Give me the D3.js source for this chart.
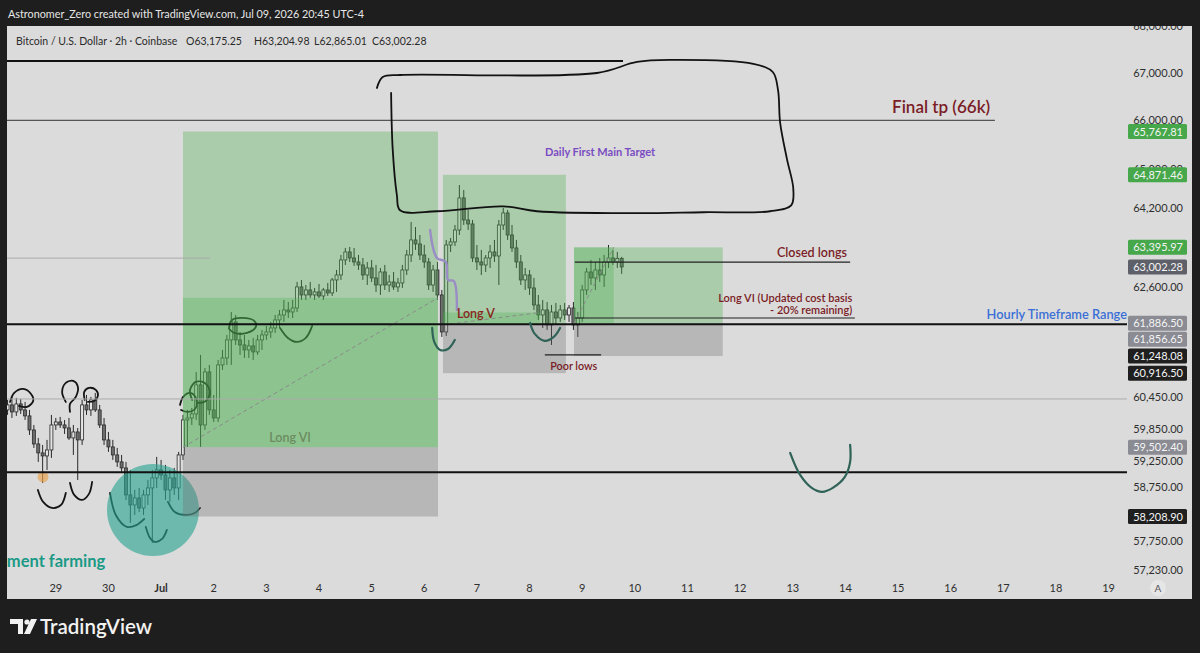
<!DOCTYPE html>
<html>
<head>
<meta charset="utf-8">
<script src="https://cdn.jsdelivr.net/npm/d3@7"></script>
<style>
  body { margin: 0; background: #1e1e1e; }
  svg { display: block; font-family: "Lato", "Open Sans", sans-serif; }
</style>
</head>
<body>
<svg id="chart" width="1200" height="653"></svg>
<script>
// ---- data ----
// days counted from Jun 29 2026 00:00
var timeTicks = d3.range(0, 21);
var timeLabels = ["29","30","Jul","2","3","4","5","6","7","8","9","10","11","12","13","14","15","16","17","18","19"];
var priceTicks = [68000, 67000, 66000, 65000, 64200, 62600, 60450, 59850, 59250, 58750, 57750, 57230];

// 2h candles starting Jun 28 02:00, [open, high, low, close]
var candleStartDay = -11 / 12;
var candles = [
  [60210,60401,60115,60306],[60306,60459,60057,60172],[60172,60440,60096,60325],[60325,60420,60134,60210],
  [60210,60363,60019,60096],[60096,60210,59734,59829],[59829,59924,59489,59564],[59564,59678,59226,59395],
  [59395,59545,58832,59338],[59338,59640,59075,59451],[59451,60115,59301,59924],[59924,60057,59829,59981],
  [59981,60077,59867,59924],[59924,60019,59753,59867],[59867,60057,59640,59678],[59678,59924,59357,59791],
  [59791,59867,58888,59640],[59640,60401,59545,60306],[60306,60497,60115,60210],[60210,60459,60096,60401],
  [60401,60535,60172,60210],[60210,60306,59867,59924],[59924,60057,59545,59640],[59640,59791,59414,59508],
  [59508,59640,59263,59357],[59357,59489,59132,59226],[59226,59357,59038,59113],[59113,59226,58516,58609],
  [58609,59075,58091,58423],[58423,58702,58238,58553],[58553,58739,58293,58367],[58367,58702,58238,58609],
  [58609,58888,58423,58739],[58739,59075,57723,58925],[58925,59320,58739,59075],[59075,59263,58888,58981],
  [58981,59169,58516,58702],[58702,59075,58479,58925],[58925,59113,58609,58739],[58739,59414,58516,59357],
  [59357,60115,59263,60019],[60019,60210,59508,60057],[60057,60249,59924,60134],[60134,60941,60019,60690],
  [60690,61270,59508,59924],[59924,61017,59829,60940],[60940,61076,60115,60210],[60210,60497,59981,60057],
  [60057,61172,59981,61076],[61076,61367,60979,61211],[61211,61659,61076,61562],[61562,62110,61076,61914],
  [61914,62051,61464,61562],[61562,61718,61270,61464],[61464,61659,61211,61367],[61367,61562,61211,61445],
  [61445,61601,61172,61328],[61328,61659,61270,61562],[61562,61757,61367,61659],[61659,61836,61562,61718],
  [61718,61914,61601,61796],[61796,62051,61698,61953],[61953,62150,61796,62051],[62051,62347,61914,62150],
  [62150,62307,61992,62110],[62110,62347,61992,62189],[62189,62704,62110,62605],[62605,62744,62347,62446],
  [62446,62644,62347,62545],[62545,62704,62386,62446],[62446,62585,62347,62506],[62506,62664,62386,62426],
  [62426,62585,62347,62545],[62545,62684,62426,62486],[62486,62784,62426,62744],[62744,62943,62506,62843],
  [62843,63243,62744,63143],[63143,63384,63043,63304],[63304,63404,63103,63183],[63183,63384,63023,63103],
  [63103,63243,62943,63043],[63043,63183,62744,62843],[62843,63103,62644,62983],[62983,63143,62704,62784],
  [62784,63043,62506,62644],[62644,62983,62446,62903],[62903,63043,62545,62644],[62644,62843,62506,62704],
  [62704,62903,62545,62605],[62605,62784,62506,62684],[62684,63043,62585,62943],[62943,63344,62843,63243],
  [63243,63908,63103,63545],[63545,63806,63344,63464],[63464,63645,63143,63243],[63243,63444,62983,63103],
  [63103,63183,62545,62644],[62644,63043,62506,62943],[62943,63103,62347,62446],[62446,62545,61620,61718],
  [61718,63545,61640,63444],[63444,63585,63304,63505],[63505,63847,63424,63746],[63746,64662,63645,64397],
  [64397,64560,63847,63949],[63949,64152,63746,63868],[63868,63949,63103,63183],[63183,63444,62943,63103],
  [63103,63344,62843,63043],[63043,63243,62903,63183],[63183,63444,62983,63304],[63304,63545,63103,63223],
  [63223,63949,62644,63847],[63847,64193,63746,64091],[64091,64152,63545,63645],[63645,63847,63304,63384],
  [63384,63545,62983,63103],[63103,63243,62644,62744],[62744,62983,62545,62843],[62843,62943,62446,62585],
  [62585,62784,62150,62248],[62248,62446,61953,62051],[62051,62347,61796,62150],[62150,62307,61757,61855],
  [61855,62248,61464,62110],[62110,62288,61855,61992],[61992,62248,61914,62150],[62150,62288,61953,62051],
  [62051,62248,61914,62189],[62189,62307,61757,61855],[61855,62110,61620,61992],[61992,62644,61914,62545],
  [62545,62983,62446,62903],[62903,63143,62644,62784],[62784,63103,62545,62943],[62943,63183,62704,62843],
  [62843,63243,62605,63103],[63103,63444,62983,63183],[63183,63344,63043,63103],[63103,63304,62983,63175.25],
  [63175.25,63204.98,62865.01,63002.28]
];

// long position tools: start/end day, target, entry, stop, last price inside and where it stops
var positionStart = [2.416, 7.355, 9.844];
var positionEnd = [7.26, 9.69, 12.67];
var positionTarget = [65767.81, 64871.46, 63395.97];
var positionEntry = [59502.40, 61856.65, 61886.50];
var positionStop = [58208.90, 60916.50, 61248.08];
var positionLast = [62390, 62100, 63395.97];
var positionLastEnd = [7.26, 9.2, 10.6];

// price badges on the right axis
var badgeValues = [65767.81, 64871.46, 63395.97, 63002.28, 61886.50, 61856.65, 61248.08, 60916.50, 59502.40, 58208.90];
var badgeKinds = ["target","target","target","last","entry","entry","stop","stop","entry","stop"];

// horizontal lines: price, from day, to day, kind
var hLinePrice = [67258, 66000, 63180, 60420, 59030, 61870, 63100, 61990, 61270];
var hLineFrom = [-1, -1, -1, -1, -1, -1, 9.86, 9.86, 9.29];
var hLineTo = [10.775, 17.84, 2.93, 20.4, 20.4, 20.4, 15.09, 15.18, 10.36];
var hLineKind = ["bold","mid","faint","faint","bold","bold","thin","thin","thin"];

// freehand drawings, points as [day, price]
var cloud = [[6.10,66682],[6.21,66915],[6.54,66958],[10.28,67000],[11.04,67235],[11.67,67278],[13.25,67193],
  [13.62,67021],[13.72,66640],[13.76,65953],[13.89,65194],[14.01,64586],[13.97,64246],[13.57,64126],
  [12.30,64106],[11.04,64086],[9.14,64126],[8.50,64226],[7.24,64126],[6.54,64146],[6.48,64448],[6.40,65401],[6.37,66578]];
var blackMarks = [
  [[-0.87,60363],[-0.79,60535],[-0.62,60612],[-0.47,60516],[-0.43,60382],[-0.55,60268],[-0.70,60287]],
  [[0.19,60363],[0.12,60555],[0.19,60728],[0.33,60767],[0.42,60651],[0.38,60459],[0.27,60325],[0.27,60172]],
  [[0.55,60401],[0.54,60555],[0.63,60632],[0.76,60593],[0.80,60478],[0.73,60382],[0.61,60363]],
  [[-0.34,58702],[-0.24,58479],[-0.07,58367],[0.10,58423],[0.19,58646]],
  [[0.27,58832],[0.35,58609],[0.50,58516],[0.63,58628],[0.69,58851]],
  [[1.03,58646],[1.14,58238],[1.35,58017],[1.54,58054],[1.68,58164]],
  [[1.71,58017],[1.79,57815],[1.88,57741],[2.02,57797],[2.11,57962]],
  [[2.13,58479],[2.26,58293],[2.45,58238],[2.64,58275],[2.74,58367]],
  [[2.36,60306],[2.42,60459],[2.55,60535],[2.66,60440],[2.66,60249],[2.51,60172],[2.38,60210]],
  [[2.59,60401],[2.55,60593],[2.66,60748],[2.83,60728],[2.93,60555],[2.85,60382],[2.70,60344]],
  [[3.29,61796],[3.35,61953],[3.54,61992],[3.77,61933],[3.80,61816],[3.63,61698],[3.39,61698],[3.29,61780]],
  [[4.26,61796],[4.41,61601],[4.58,61523],[4.75,61601],[4.87,61836]]
];
var tealMarks = [
  [[7.15,61796],[7.19,61523],[7.30,61367],[7.45,61386],[7.58,61562]],
  [[9.01,61894],[9.10,61679],[9.29,61542],[9.46,61620],[9.58,61796]],
  [[13.95,59395],[14.14,58981],[14.36,58739],[14.56,58665],[14.76,58739],[14.99,58944],[15.09,59226],[15.09,59545]]
];
var purpleMark = [[7.11,63746],[7.24,63183],[7.41,63103],[7.45,62744],[7.56,62724],[7.62,62150]];
var farmingCircle = [1.846, 58330];
var orangeDot = [-0.243, 58944];

// ---- layout ----
var svg = d3.select("#chart");
var panel = { left: 7, top: 26, right: 1192, bottom: 599 };
var plot = { left: 7, right: 1127, top: 26, bottom: 578 };

var xScale = d3.scaleLinear().domain([0, 20]).range([55.8, 1108.6]);
var yScale = d3.scaleLog().domain([67000, 57230]).range([73, 570]);

svg.append("rect").attr("width", 1200).attr("height", 653).attr("fill", "#1e1e1e");
svg.append("rect")
  .attr("x", panel.left).attr("y", panel.top)
  .attr("width", panel.right - panel.left).attr("height", panel.bottom - panel.top)
  .attr("fill", "#dbdbdb");

svg.append("text")
  .attr("x", 8).attr("y", 18)
  .attr("fill", "#e6e6e6").attr("font-size", 10.8)
  .text("Astronomer_Zero created with TradingView.com, Jul 09, 2026 20:45 UTC-4");

var defs = svg.append("defs");
defs.append("clipPath").attr("id", "plotClip")
  .append("rect").attr("x", plot.left).attr("y", plot.top)
  .attr("width", plot.right - plot.left).attr("height", plot.bottom - plot.top);
defs.append("clipPath").attr("id", "panelClip")
  .append("rect").attr("x", panel.left).attr("y", panel.top)
  .attr("width", panel.right - panel.left).attr("height", panel.bottom - panel.top);

var g = svg.append("g").attr("clip-path", "url(#plotClip)");

var px = function(p) { return xScale(p[0]); };
var py = function(p) { return yScale(p[1]); };
var freehand = d3.line().x(px).y(py).curve(d3.curveCatmullRom.alpha(0.5));

// candles
var candleW = 3;
var cg = g.append("g");
candles.forEach(function(c, i) {
  var x = xScale(candleStartDay + i / 12);
  var up = c[3] >= c[0];
  cg.append("line")
    .attr("x1", x).attr("x2", x)
    .attr("y1", yScale(c[1])).attr("y2", yScale(c[2]))
    .attr("stroke", "#2a2a2a").attr("stroke-width", 1);
  var top = yScale(Math.max(c[0], c[3])), bot = yScale(Math.min(c[0], c[3]));
  cg.append("rect")
    .attr("x", x - candleW / 2).attr("y", top)
    .attr("width", candleW).attr("height", Math.max(1, bot - top))
    .attr("fill", up ? "#e4e4e4" : "#6d6d6d")
    .attr("stroke", "#2a2a2a").attr("stroke-width", 0.8);
});

// black freehand marks (drawn below the boxes so they tint)
blackMarks.forEach(function(m) {
  g.append("path").attr("d", freehand(m))
    .attr("fill", "none").attr("stroke", "#141414").attr("stroke-width", 1.8)
    .attr("stroke-linecap", "round");
});

// farming circle + orange dot
g.append("circle")
  .attr("cx", xScale(farmingCircle[0])).attr("cy", yScale(farmingCircle[1])).attr("r", 46)
  .attr("fill", "#2aa491").attr("opacity", 0.62);
g.append("circle")
  .attr("cx", xScale(orangeDot[0])).attr("cy", yScale(orangeDot[1])).attr("r", 5.5)
  .attr("fill", "#e9a24a").attr("opacity", 0.65);

// long position boxes
positionStart.forEach(function(s, i) {
  var x0 = xScale(s), x1 = xScale(positionEnd[i]);
  var yT = yScale(positionTarget[i]), yE = yScale(positionEntry[i]), yS = yScale(positionStop[i]);
  var yL = yScale(positionLast[i]), xL = xScale(positionLastEnd[i]);
  g.append("rect").attr("x", x0).attr("y", yT).attr("width", x1 - x0).attr("height", yE - yT)
    .attr("fill", "rgb(76,175,80)").attr("fill-opacity", 0.34);
  g.append("rect").attr("x", x0).attr("y", yE).attr("width", x1 - x0).attr("height", yS - yE)
    .attr("fill", "rgb(110,110,110)").attr("fill-opacity", 0.33);
  g.append("rect").attr("x", x0).attr("y", yL).attr("width", xL - x0).attr("height", yE - yL)
    .attr("fill", "rgb(76,175,80)").attr("fill-opacity", 0.3);
  g.append("line").attr("x1", x0).attr("y1", yE).attr("x2", xL).attr("y2", yL)
    .attr("stroke", "#8a8a8a").attr("stroke-width", 1).attr("stroke-dasharray", "4,3");
});

// horizontal lines
var lineStyle = {
  bold: { stroke: "#111", width: 2 },
  mid: { stroke: "#555", width: 1.2 },
  faint: { stroke: "#ababab", width: 1 },
  thin: { stroke: "#222", width: 1.1 }
};
hLinePrice.forEach(function(p, i) {
  var st = lineStyle[hLineKind[i]];
  g.append("line")
    .attr("x1", xScale(hLineFrom[i])).attr("x2", xScale(hLineTo[i]))
    .attr("y1", yScale(p)).attr("y2", yScale(p))
    .attr("stroke", st.stroke).attr("stroke-width", st.width);
});

// other freehand marks
tealMarks.forEach(function(m) {
  g.append("path").attr("d", freehand(m))
    .attr("fill", "none").attr("stroke", "#2f6357").attr("stroke-width", 2.2)
    .attr("stroke-linecap", "round");
});
g.append("path").attr("d", freehand(purpleMark))
  .attr("fill", "none").attr("stroke", "#9a8cc4").attr("stroke-width", 2.4)
  .attr("stroke-linecap", "round");
g.append("path").attr("d", freehand(cloud))
  .attr("fill", "none").attr("stroke", "#121212").attr("stroke-width", 1.8)
  .attr("stroke-linecap", "round");

// text annotations: day, price, text, anchor, color, size, weight
var notes = [
  [17.75, 66150, "Final tp (66k)", "end", "#7a1d26", 17, 600],
  [10.34, 65250, "Daily First Main Target", "middle", "#7a4cc2", 11, 700],
  [4.45, 59600, "Long VI", "middle", "#6c8c60", 12.5, 600],
  [7.62, 61990, "Long V", "start", "#8a2320", 12.5, 600],
  [15.03, 63203, "Closed longs", "end", "#7a1d26", 12.5, 600],
  [15.13, 62307, "Long VI (Updated cost basis", "end", "#7a1d26", 11, 600],
  [15.13, 62071, "- 20% remaining)", "end", "#7a1d26", 11, 600],
  [9.84, 60979, "Poor lows", "middle", "#7a1d26", 10.8, 600],
  [20.35, 61973, "Hourly Timeframe Range", "end", "#3a6fd6", 12.8, 600],
  [-0.93, 57280, "ment farming", "start", "#1a9a86", 16.5, 700]
];
notes.forEach(function(n) {
  g.append("text")
    .attr("x", xScale(n[0])).attr("y", yScale(n[1]))
    .attr("text-anchor", n[3]).attr("fill", n[4])
    .attr("font-size", n[5]).attr("font-weight", n[6])
    .text(n[2]);
});

// symbol header
var head = svg.append("g").attr("font-size", 10.5).attr("fill", "#2b2b2b");
head.append("text").attr("x", 16).attr("y", 45).text("Bitcoin / U.S. Dollar · 2h · Coinbase");
head.append("text").attr("x", 186).attr("y", 45).text("O63,175.25");
head.append("text").attr("x", 254).attr("y", 45).text("H63,204.98");
head.append("text").attr("x", 314).attr("y", 45).text("L62,865.01");
head.append("text").attr("x", 372).attr("y", 45).text("C63,002.28");

// right price axis
var fmt = d3.format(",.2f");
var axisG = svg.append("g").attr("clip-path", "url(#panelClip)");
axisG.selectAll("text.tick")
  .data(priceTicks).enter().append("text")
  .attr("class", "tick")
  .attr("x", 1183).attr("y", function(d) { return yScale(d) + 4; })
  .attr("text-anchor", "end").attr("font-size", 11).attr("fill", "#2f2f2f")
  .text(function(d) { return fmt(d); });

// badges, nudged apart when they overlap
var badgeColor = { target: "#46a84a", last: "#5e6069", entry: "#8a8b93", stop: "#1f1f1f" };
var badgeH = 15, prevY = -100;
badgeValues.forEach(function(v, i) {
  var y = yScale(v);
  if (y < prevY + badgeH + 1) y = prevY + badgeH + 1;
  prevY = y;
  axisG.append("rect")
    .attr("x", 1128).attr("y", y - badgeH / 2).attr("width", 59).attr("height", badgeH)
    .attr("rx", 1.5).attr("fill", badgeColor[badgeKinds[i]]);
  axisG.append("text")
    .attr("x", 1183).attr("y", y + 4)
    .attr("text-anchor", "end").attr("font-size", 11).attr("fill", "#f4f4f4")
    .text(fmt(v));
});

// time axis
svg.append("g").selectAll("text")
  .data(timeTicks).enter().append("text")
  .attr("x", function(d) { return xScale(d); }).attr("y", 592)
  .attr("text-anchor", "middle").attr("font-size", 11).attr("fill", "#2f2f2f")
  .attr("font-weight", function(d, i) { return timeLabels[i] === "Jul" ? 700 : 400; })
  .text(function(d, i) { return timeLabels[i]; });
svg.append("circle").attr("cx", 1158).attr("cy", 588).attr("r", 8).attr("fill", "#e6e6e6");
svg.append("text").attr("x", 1158).attr("y", 592).attr("text-anchor", "middle")
  .attr("font-size", 10).attr("fill", "#555").text("A");

// TradingView logo
var logo = svg.append("g").attr("fill", "#f2f2f2");
logo.append("path").attr("d", "M10,619 h13 v15 h-5 v-10 h-8 z");
logo.append("circle").attr("cx", 27).attr("cy", 622).attr("r", 2.6);
logo.append("path").attr("d", "M31,619 h6 l-7,15 h-6 z");
logo.append("text").attr("x", 40).attr("y", 634)
  .attr("font-size", 20.5).attr("font-weight", 600).text("TradingView");
</script>
</body>
</html>
